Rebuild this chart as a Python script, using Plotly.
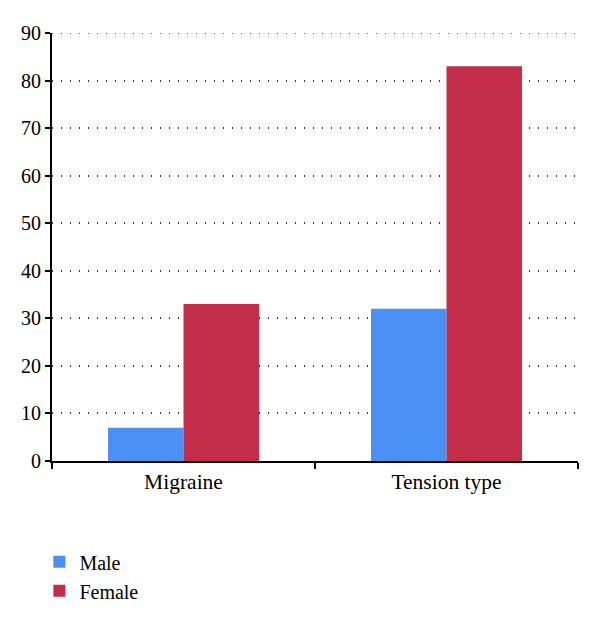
import plotly.graph_objects as go

categories = ["Migraine", "Tension type"]
male = [7, 32]
female = [33, 83]
y_ticks = [0, 10, 20, 30, 40, 50, 60, 70, 80, 90]

FONT = "Liberation Serif"

fig = go.Figure()
fig.add_trace(go.Bar(name="Male", x=categories, y=male, legendgroup="m",
                     marker=dict(color="#4a90f5", line=dict(width=0))))
fig.add_trace(go.Bar(name="Female", x=categories, y=female, legendgroup="f",
                     marker=dict(color="#c32d4a", line=dict(width=0))))

# top gridline (plotly hides the one at the range edge)
fig.add_shape(type="line", xref="paper", yref="y", x0=0, x1=1,
              y0=y_ticks[-1], y1=y_ticks[-1], layer="below",
              line=dict(color="#333333", width=1.5, dash="1px,8px"))

fig.update_layout(
    width=592, height=618,
    margin=dict(l=44, r=22, t=25, b=165, autoexpand=False),
    paper_bgcolor="white", plot_bgcolor="white",
    barmode="group", bargap=0.426, bargroupgap=0,
    font=dict(family=FONT, size=21, color="black"),
    showlegend=True,
    legend=dict(x=-0.024, xanchor="left", y=-0.19, yanchor="top",
                orientation="v", font=dict(family=FONT, size=20),
                tracegroupgap=0, itemwidth=30, bgcolor="rgba(0,0,0,0)"),
    xaxis=dict(showline=True, linecolor="black", linewidth=2,
               ticks="outside", tickson="boundaries", ticklen=6, tickwidth=2, tickcolor="black",
               showgrid=False, zeroline=False,
               tickfont=dict(family=FONT, size=21.5)),
    yaxis=dict(range=[0, 90], tickvals=y_ticks, showline=True, linecolor="black", linewidth=2,
               ticks="outside", ticklen=5, tickwidth=2, tickcolor="black",
               showgrid=True, gridcolor="#333333", gridwidth=1.5, griddash="1px,8px",
               zeroline=False, tickfont=dict(family=FONT, size=20)),
)

fig.write_html("out.html")
